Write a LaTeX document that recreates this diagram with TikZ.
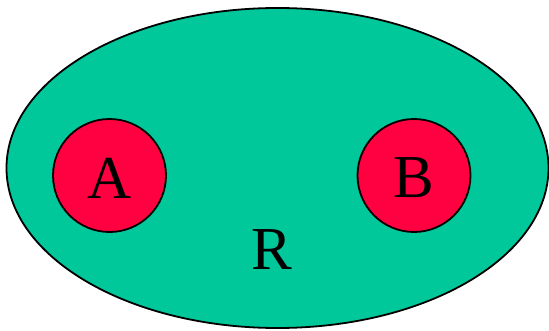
\documentclass[tikz,border=0pt]{standalone}
\usepackage{fontspec}
\setmainfont{Liberation Serif}
\definecolor{regiongreen}{RGB}{0,200,155}
\definecolor{circred}{RGB}{255,0,64}
\begin{document}
\begin{tikzpicture}[x=1pt,y=1pt,
  region/.style={draw=black,line width=1.8pt,fill=regiongreen},
  blob/.style={circle,draw=black,line width=1.8pt,fill=circred,minimum size=113pt,inner sep=0pt},
  lbl/.style={font=\fontsize{61}{61}\selectfont,inner sep=0pt}]
\useasboundingbox (0,0) rectangle (549,330);
\draw[region] (277.5,162) ellipse [x radius=271, y radius=160];
\node[blob] (A) at (109.5,154.5) {};
\node[blob] (B) at (414,154.5) {};
\node[lbl] (tA) at (110,152) {A};
\node[lbl] (tB) at (414,152) {B};
\node[lbl] (R) at (272,80.5) {R};
\end{tikzpicture}
\end{document}
